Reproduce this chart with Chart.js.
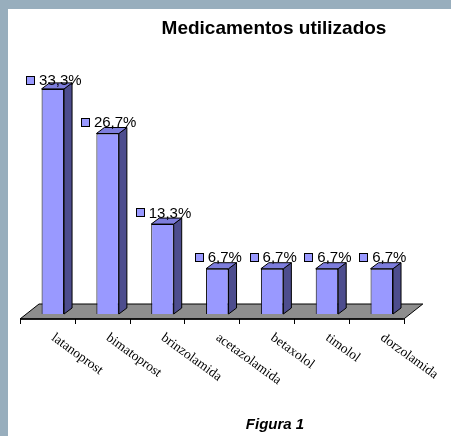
<!DOCTYPE html>
<html>
<head>
<meta charset="utf-8">
<script src="https://cdn.jsdelivr.net/npm/chart.js@4/dist/chart.umd.min.js"></script>
<style>
html,body{margin:0;padding:0;width:451px;height:436px;overflow:hidden;background:#98aebd}
#wrap{position:absolute;left:8px;top:9px;width:443px;height:427px;background:#fff}
canvas{display:block}
</style>
</head>
<body>
<div id="wrap"><canvas id="myChart" width="443" height="427"></canvas></div>
<script>
// dados
var categorias = ['latanoprost', 'bimatoprost', 'brinzolamida', 'acetazolamida', 'betaxolol', 'timolol', 'dorzolamida'];
var valores = [33.3, 26.7, 13.3, 6.7, 6.7, 6.7, 6.7];
var rotulos = ['33,3%', '26,7%', '13,3%', '6,7%', '6,7%', '6,7%', '6,7%'];
var titulo = 'Medicamentos utilizados';
var legenda = 'Figura 1';

var frente = '#9999ff';
var lado = '#4d4d8e';
var topo = '#7d7ddc';
var dx = 8, dy = 6;

poly = function (ctx, pts, cor) {
    ctx.beginPath();
    ctx.moveTo(pts[0][0], pts[0][1]);
    for (var k = 1; k < pts.length; k++) ctx.lineTo(pts[k][0], pts[k][1]);
    ctx.closePath();
    ctx.fillStyle = cor;
    ctx.fill();
    ctx.stroke();
}

var barras3d = {
    id: 'barras3d',
    beforeDatasetsDraw: function (chart) {
        var ctx = chart.ctx, a = chart.chartArea;
        var fy = a.bottom + 5, x0 = a.left - 5.4, x1 = a.right - 5.4;
        ctx.save();
        ctx.strokeStyle = '#000';
        ctx.lineWidth = 1;
        poly(ctx, [[x0, fy], [x1, fy], [x1 + 19, fy - 15], [x0 + 19, fy - 15]], '#8e8e8e');
        ctx.lineWidth = 1.5;
        ctx.beginPath();
        ctx.moveTo(x0, fy); ctx.lineTo(x1, fy);
        ctx.stroke();
        ctx.lineWidth = 1;
        var step = (a.right - a.left) / categorias.length;
        ctx.beginPath();
        for (var i = 0; i <= categorias.length; i++) {
            var tx = Math.round(x0 + i * step) + 0.5;
            ctx.moveTo(tx, fy);
            ctx.lineTo(tx, fy + 5);
        }
        ctx.stroke();
        ctx.restore();
    },
    afterDatasetsDraw: function (chart) {
        var ctx = chart.ctx, a = chart.chartArea;
        var meta = chart.getDatasetMeta(0);
        ctx.save();
        ctx.strokeStyle = '#000';
        ctx.lineWidth = 1;
        meta.data.forEach(function (bar, i) {
            var p = bar.getProps(['x', 'y', 'base', 'width'], true);
            var l = p.x - p.width / 2, r = p.x + p.width / 2, t = p.y, b = p.base;
            poly(ctx, [[r, b], [r + dx, b - dy], [r + dx, t - dy], [r, t]], lado);
            poly(ctx, [[l, t], [l + dx, t - dy], [r + dx, t - dy], [r, t]], topo);

            // rótulo de valor
            ctx.font = '15px "Liberation Sans", Arial, sans-serif';
            var tw = ctx.measureText(rotulos[i]).width;
            var gw = 9 + 4 + tw;
            var cy = Math.max(t - 11.5, a.top + 2.6);
            var gx = p.x + 1 - gw / 2;
            ctx.fillStyle = frente;
            ctx.fillRect(Math.round(gx) + 0.5, Math.round(cy - 4.5) + 0.5, 8, 8);
            ctx.strokeRect(Math.round(gx) + 0.5, Math.round(cy - 4.5) + 0.5, 8, 8);
            ctx.fillStyle = '#000';
            ctx.textAlign = 'left';
            ctx.textBaseline = 'middle';
            ctx.fillText(rotulos[i], gx + 13, cy + 1);

            // categoria
            ctx.save();
            ctx.translate(p.x + 4, a.bottom + 17);
            ctx.rotate(36 * Math.PI / 180);
            ctx.font = '13.5px "Liberation Serif", "Times New Roman", serif';
            ctx.textBaseline = 'top';
            ctx.fillText(categorias[i], 0, 0);
            ctx.restore();
        });
        ctx.restore();
    },
    afterDraw: function (chart) {
        var ctx = chart.ctx;
        ctx.save();
        ctx.fillStyle = '#000';
        ctx.textAlign = 'center';
        ctx.textBaseline = 'alphabetic';
        ctx.font = 'bold 19px "Liberation Sans", Arial, sans-serif';
        ctx.fillText(titulo, 266, 24.5);
        ctx.font = 'italic bold 15px "Liberation Sans", Arial, sans-serif';
        ctx.fillText(legenda, 267, 420);
        ctx.restore();
    }
};

var myChart = new Chart(document.getElementById('myChart').getContext('2d'), {
    type: 'bar',
    data: {
        labels: categorias,
        datasets: [{
            data: valores,
            backgroundColor: frente,
            borderColor: '#000',
            borderWidth: 1,
            barPercentage: 0.41,
            categoryPercentage: 1
        }]
    },
    options: {
        responsive: false,
        animation: false,
        layout: { padding: { left: 17.4, right: 41.8, top: 68.4, bottom: 122 } },
        plugins: { legend: { display: false }, title: { display: false }, tooltip: { enabled: false } },
        scales: {
            x: { display: false },
            y: { display: false, min: 0, max: 35 }
        }
    },
    plugins: [barras3d]
});
</script>
</body>
</html>
